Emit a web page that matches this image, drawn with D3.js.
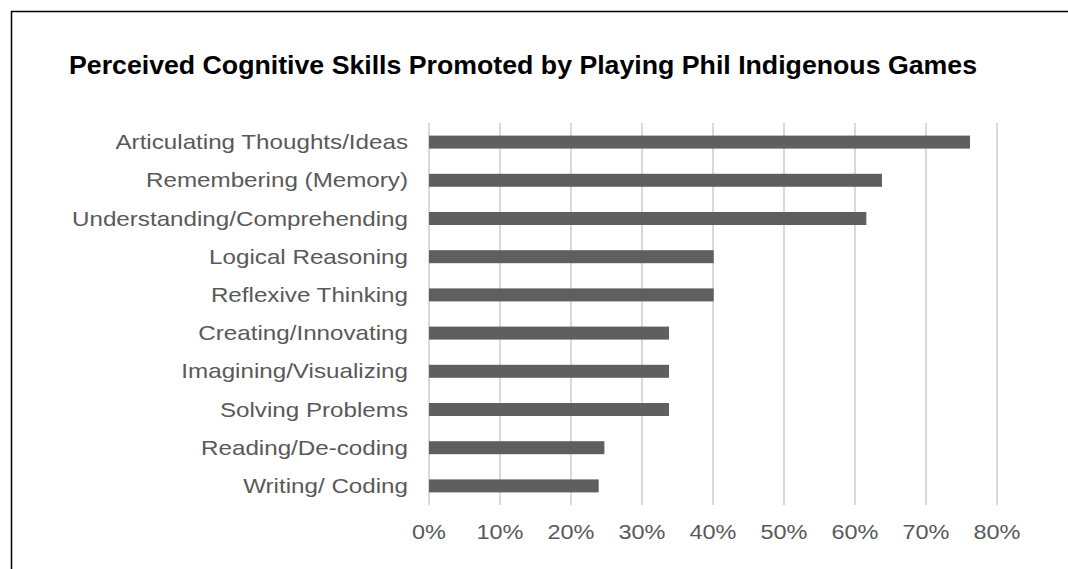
<!DOCTYPE html>
<html>
<head>
<meta charset="utf-8">
<script src="https://cdn.jsdelivr.net/npm/d3@7"></script>
<style>
  body { margin: 0; background: #fff; }
  svg { display: block; }
</style>
</head>
<body>
<div id="chart"></div>
<script>
// skills and share of respondents
const skills = [
  "Articulating Thoughts/Ideas",
  "Remembering (Memory)",
  "Understanding/Comprehending",
  "Logical Reasoning",
  "Reflexive Thinking",
  "Creating/Innovating",
  "Imagining/Visualizing",
  "Solving Problems",
  "Reading/De-coding",
  "Writing/ Coding"
]
const shares = [0.762, 0.638, 0.616, 0.401, 0.401, 0.338, 0.338, 0.338, 0.247, 0.239]
const ticks = [0, 0.1, 0.2, 0.3, 0.4, 0.5, 0.6, 0.7, 0.8]

const width = 1068, height = 569
const margin = {top: 123, right: 71, bottom: 64, left: 429}
const font = "Liberation Sans, Arial, sans-serif"

const svg = d3.select("#chart").append("svg")
    .attr("width", width)
    .attr("height", height)

// frame
svg.append("rect")
    .attr("x", 11.5).attr("y", 11.5)
    .attr("width", width + 20).attr("height", height + 20)
    .attr("fill", "none")
    .attr("stroke", "#000")
    .attr("stroke-width", 1.5)

svg.append("text")
    .attr("x", 69)
    .attr("y", 73.5)
    .attr("font-family", font)
    .attr("font-weight", "bold")
    .attr("font-size", 26)
    .attr("fill", "#000")
    .attr("textLength", 908)
    .attr("lengthAdjust", "spacingAndGlyphs")
    .text("Perceived Cognitive Skills Promoted by Playing Phil Indigenous Games")

const x = d3.scaleLinear()
    .domain([0, 0.8])
    .range([margin.left, width - margin.right])

const y = d3.scaleBand()
    .domain(skills)
    .range([margin.top, height - margin.bottom])
    .paddingInner(0.66)
    .paddingOuter(0.33)

// gridlines
svg.append("g")
    .selectAll("line")
    .data(ticks)
    .join("line")
    .attr("x1", d => x(d)).attr("x2", d => x(d))
    .attr("y1", margin.top).attr("y2", height - margin.bottom)
    .attr("stroke", "#d9d9d9")
    .attr("stroke-width", 2)

// bars
const data = skills.map((s, i) => ({skill: s, value: shares[i]}))
svg.append("g")
    .selectAll("rect")
    .data(data)
    .join("rect")
    .attr("x", x(0))
    .attr("y", d => y(d.skill))
    .attr("width", d => x(d.value) - x(0))
    .attr("height", y.bandwidth())
    .attr("fill", "#5f5f5f")

// category labels (the original text is a bit wide, so stretch horizontally)
svg.append("g")
    .attr("transform", "translate(408,0) scale(1.18,1)")
    .attr("font-family", font)
    .attr("font-size", 20.5)
    .attr("fill", "#595959")
    .attr("text-anchor", "end")
    .selectAll("text")
    .data(skills)
    .join("text")
    .attr("x", 0)
    .attr("y", d => y(d) + y.bandwidth() / 2)
    .attr("dy", "0.35em")
    .text(d => d)

// x tick labels
const fmt = d3.format(".0%")
svg.append("g")
    .attr("font-family", font)
    .attr("font-size", 21)
    .attr("fill", "#595959")
    .attr("text-anchor", "middle")
    .selectAll("text")
    .data(ticks)
    .join("text")
    .attr("transform", d => `translate(${x(d)},539) scale(1.12,1)`)
    .text(d => fmt(d))
</script>
</body>
</html>
